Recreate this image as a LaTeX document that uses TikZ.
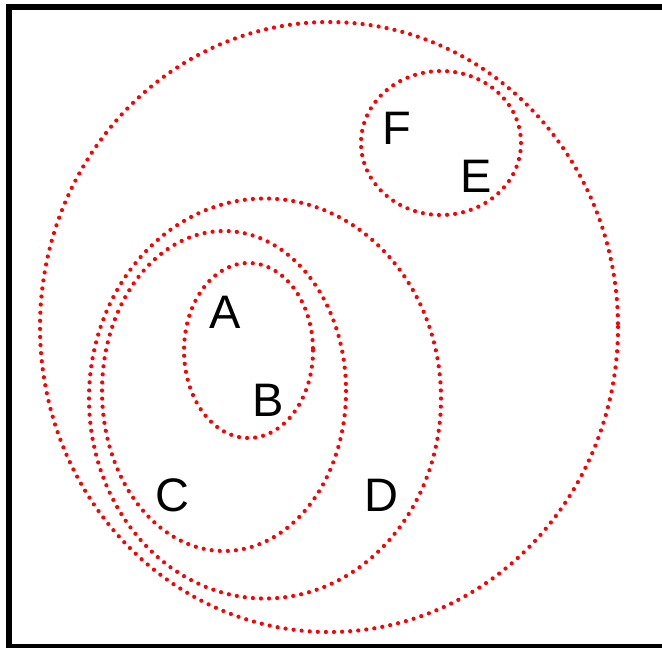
\documentclass[tikz,border=0pt]{standalone}
\usepackage{fontspec}
\setmainfont{Liberation Sans}
\begin{document}
\begin{tikzpicture}[x=1pt,y=-1pt,
  dotline/.style={draw=red, line width=4.2pt, line cap=round, dash pattern=on 0pt off 8.1pt},
  lbl/.style={inner sep=0pt, anchor=base, font=\fontsize{47}{50}\selectfont}]
\useasboundingbox (0,0) rectangle (662,648);
\begin{scope}
\clip (0,0) rectangle (662,648);
\draw[line width=6pt] (9,7) rectangle (666,647);
\end{scope}
\draw[dotline] (329,327) ellipse [x radius=289, y radius=305];
\draw[dotline] (441,143) ellipse [x radius=80, y radius=72];
\draw[dotline] (265,398.5) ellipse [x radius=176, y radius=200];
\draw[dotline] (224,391) ellipse [x radius=122, y radius=160];
\draw[dotline] (248.5,350.5) ellipse [x radius=64.5, y radius=87.5];
\node[lbl] (A) at (225,328) {A};
\node[lbl] (B) at (268,416) {B};
\node[lbl] (C) at (172.5,511) {C};
\node[lbl] (D) at (381,511) {D};
\node[lbl] (F) at (396.5,144) {F};
\node[lbl] (E) at (476,192) {E};
\end{tikzpicture}
\end{document}
